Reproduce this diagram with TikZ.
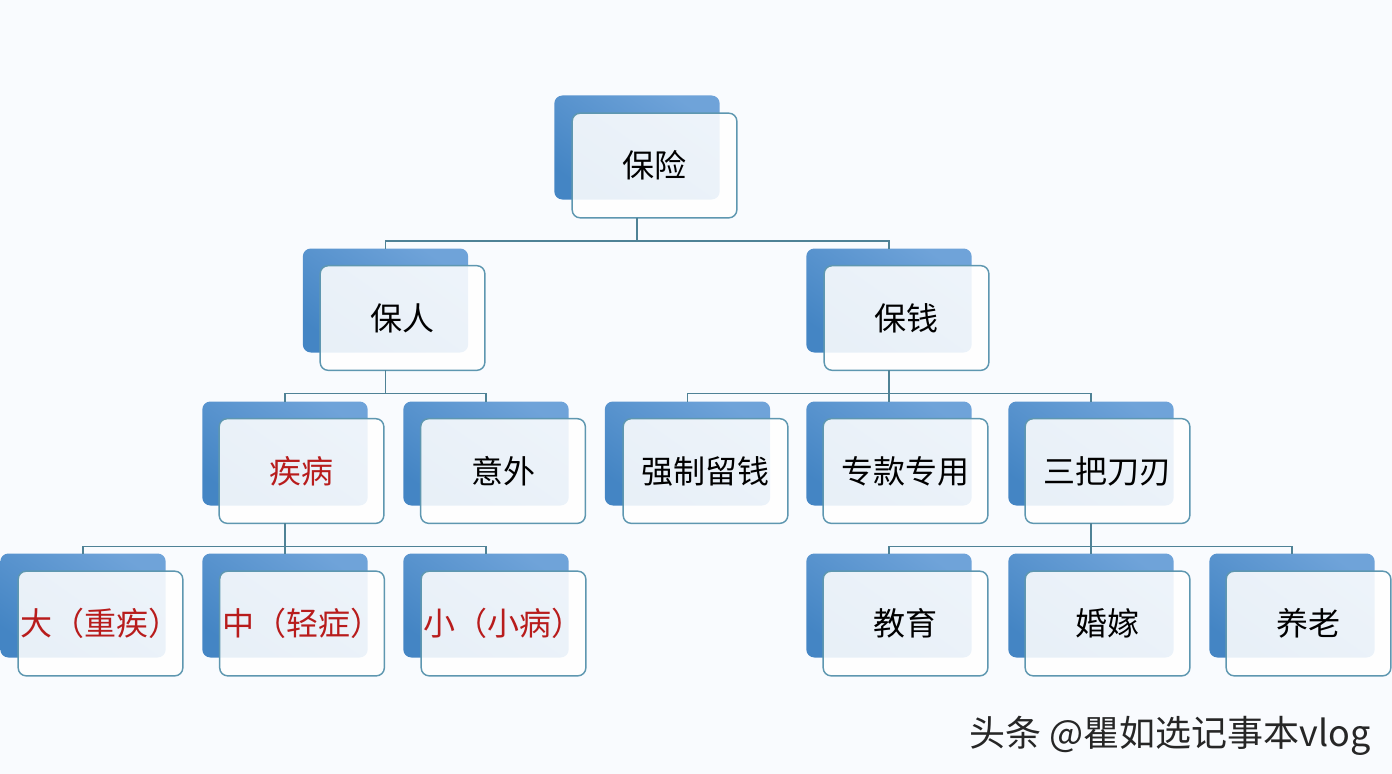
\documentclass[tikz,border=0pt]{standalone}
\usepackage{fontspec}
\setmainfont{Noto Sans CJK SC}
\usepackage{xcolor}
\definecolor{pagebg}{HTML}{F9FBFE}
\definecolor{backdark}{HTML}{4485C4}
\definecolor{backlight}{HTML}{6FA3D9}
\definecolor{edgeline}{HTML}{5E97B0}
\definecolor{linkline}{HTML}{4F8296}
\definecolor{sicktext}{HTML}{B81C1C}

\begin{document}
\begin{tikzpicture}[x=0.75pt,y=-0.75pt]

        \tikzset{
            backbox/.style={rounded corners=6pt, inner sep=0pt, outer sep=0pt, minimum width=124pt, minimum height=78pt, bottom color=backdark, top color=backlight, shading angle=-35},
            frontbox/.style={draw=edgeline, line width=1.1pt, rounded corners=6pt, fill=white, fill opacity=0.88, text opacity=1, inner sep=0pt, outer sep=0pt, minimum width=123.5pt, minimum height=78.5pt, font=\fontsize{24}{28}\selectfont},
            sickbox/.style={frontbox, text=sicktext},
            connect/.style={draw=linkline, line width=1.1pt}
        }

        \useasboundingbox (0,0) rectangle (1392,774);
        \fill[pagebg] (0,0) rectangle (1392,774);

        \node[backbox] (rootb) at (637,147.5) {};
        \node[backbox] (renb) at (385.5,300.5) {};
        \node[backbox] (qianb) at (889,300.5) {};
        \node[backbox] (jibingb) at (285,453.5) {};
        \node[backbox] (yiwaib) at (486,453.5) {};
        \node[backbox] (liuqianb) at (687.5,453.5) {};
        \node[backbox] (zhuankuanb) at (889,453.5) {};
        \node[backbox] (sanbab) at (1091,453.5) {};
        \node[backbox] (dab) at (83,605.5) {};
        \node[backbox] (zhongb) at (285,605.5) {};
        \node[backbox] (xiaob) at (486,605.5) {};
        \node[backbox] (jiaoyub) at (889,605.5) {};
        \node[backbox] (hunjiab) at (1091,605.5) {};
        \node[backbox] (yanglaob) at (1292,605.5) {};

        \node[frontbox] (root) at (654.5,165.5) {保险};
        \node[frontbox] (ren) at (402.5,318) {保人};
        \node[frontbox] (qian) at (906.5,318) {保钱};
        \node[sickbox] (jibing) at (301.5,471) {疾病};
        \node[frontbox] (yiwai) at (503,471) {意外};
        \node[frontbox] (liuqian) at (705.5,471) {强制留钱};
        \node[frontbox] (zhuankuan) at (905.5,471) {专款专用};
        \node[frontbox] (sanba) at (1107.5,471) {三把刀刃};
        \node[sickbox] (da) at (100.5,623.5) {大（重疾）};
        \node[sickbox] (zhong) at (302,623.5) {中（轻症）};
        \node[sickbox] (xiao) at (503.5,623.5) {小（小病）};
        \node[frontbox] (jiaoyu) at (905.5,623.5) {教育};
        \node[frontbox] (hunjia) at (1107.5,623.5) {婚嫁};
        \node[frontbox] (yanglao) at (1308.5,623.5) {养老};

        \foreach \p/\c in {root/ren, root/qian, ren/jibing, ren/yiwai, qian/liuqian, qian/zhuankuan, qian/sanba, jibing/da, jibing/zhong, jibing/xiao, sanba/jiaoyu, sanba/hunjia, sanba/yanglao} {
            \draw[connect] (\p b.south |- \p.south) -- ++(0,23) -| (\c b.north);
        }

        \node[font=\fontsize{27}{32}\selectfont, text=black!85] (mark) at (1170,736) {头条 @瞿如选记事本vlog};

\end{tikzpicture}
\end{document}
